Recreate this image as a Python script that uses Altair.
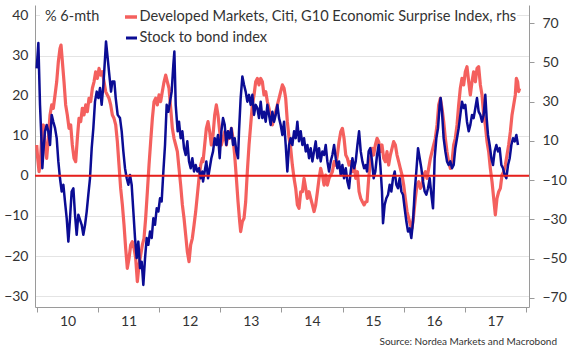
import altair as alt
import pandas as pd

# ---------------- data ----------------
blue_t = [2009.995, 2010.022, 2010.049, 2010.076, 2010.087, 2010.104, 2010.131, 2010.158, 2010.185, 2010.213,
          2010.240, 2010.267, 2010.295, 2010.322, 2010.349, 2010.376, 2010.404, 2010.431, 2010.458, 2010.486,
          2010.513, 2010.540, 2010.567, 2010.595, 2010.622, 2010.649, 2010.676, 2010.731, 2010.758, 2010.786,
          2010.813, 2010.840, 2010.867, 2010.895, 2010.922, 2010.949, 2010.977, 2011.004, 2011.031, 2011.058,
          2011.086, 2011.113, 2011.129, 2011.157, 2011.178, 2011.211, 2011.233, 2011.266, 2011.288, 2011.320,
          2011.358, 2011.386, 2011.413, 2011.440, 2011.468, 2011.495, 2011.522, 2011.549, 2011.577, 2011.604,
          2011.631, 2011.658, 2011.686, 2011.713, 2011.740, 2011.768, 2011.795, 2011.822, 2011.849, 2011.877,
          2011.904, 2011.931, 2011.959, 2011.986, 2012.013, 2012.040, 2012.068, 2012.095, 2012.122, 2012.150,
          2012.177, 2012.204, 2012.231, 2012.248, 2012.270, 2012.302, 2012.324, 2012.351, 2012.379, 2012.406,
          2012.433, 2012.460, 2012.488, 2012.515, 2012.542, 2012.570, 2012.597, 2012.624, 2012.651, 2012.679,
          2012.706, 2012.717, 2012.744, 2012.771, 2012.799, 2012.826, 2012.853, 2012.881, 2012.908, 2012.935,
          2012.962, 2012.990, 2013.017, 2013.044, 2013.072, 2013.099, 2013.126, 2013.153, 2013.181, 2013.208,
          2013.235, 2013.263, 2013.290, 2013.306, 2013.333, 2013.361, 2013.388, 2013.415, 2013.442, 2013.470,
          2013.497, 2013.524, 2013.552, 2013.579, 2013.606, 2013.633, 2013.661, 2013.688, 2013.715, 2013.743,
          2013.770, 2013.797, 2013.824, 2013.852, 2013.879, 2013.906, 2013.934, 2013.961, 2013.988, 2014.016,
          2014.043, 2014.070, 2014.097, 2014.125, 2014.152, 2014.179, 2014.207, 2014.234, 2014.261, 2014.288,
          2014.316, 2014.343, 2014.370, 2014.398, 2014.425, 2014.452, 2014.479, 2014.507, 2014.534, 2014.561,
          2014.589, 2014.616, 2014.643, 2014.670, 2014.698, 2014.725, 2014.752, 2014.780, 2014.807, 2014.834,
          2014.862, 2014.889, 2014.916, 2014.943, 2014.971, 2014.998, 2015.025, 2015.053, 2015.080, 2015.107,
          2015.134, 2015.162, 2015.189, 2015.216, 2015.244, 2015.271, 2015.298, 2015.325, 2015.353, 2015.380,
          2015.401, 2015.428, 2015.455, 2015.483, 2015.510, 2015.537, 2015.565, 2015.592, 2015.619, 2015.646,
          2015.663, 2015.690, 2015.717, 2015.745, 2015.772, 2015.799, 2015.826, 2015.854, 2015.881, 2015.908,
          2015.935, 2015.963, 2015.990, 2016.017, 2016.045, 2016.072, 2016.099, 2016.126, 2016.154, 2016.181,
          2016.208, 2016.236, 2016.263, 2016.290, 2016.317, 2016.345, 2016.372, 2016.399, 2016.427, 2016.454,
          2016.481, 2016.497, 2016.508, 2016.536, 2016.563, 2016.590, 2016.606, 2016.628, 2016.655, 2016.683,
          2016.710, 2016.737, 2016.764, 2016.792, 2016.819, 2016.846, 2016.874, 2016.901, 2016.928, 2016.955,
          2016.983, 2017.010, 2017.037, 2017.065, 2017.092, 2017.119, 2017.146, 2017.174, 2017.201, 2017.228,
          2017.256, 2017.283, 2017.310, 2017.337, 2017.359, 2017.381, 2017.408, 2017.436, 2017.463, 2017.490,
          2017.518, 2017.545, 2017.572, 2017.600, 2017.627, 2017.654, 2017.681, 2017.709, 2017.736, 2017.763,
          2017.791, 2017.818, 2017.845, 2017.872]
blue_v = [26.8, 33.1, 17.7, 7.7, 1.9, 6.1, 11.1, 12.7, 11.1, 7.7,
          15.2, 13.5, 11.9, 9.4, 3.6, -0.6, -3.9, -2.2, -6.4, -10.6,
          -16.4, -10.6, -3.9, -3.1, -9.7, -14.7, -9.7, -12.2, -14.7, -12.2,
          -8.9, -4.7, -0.6, 6.9, 11.9, 18.5, 21.0, 19.4, 21.9, 17.7,
          22.7, 29.3, 33.5, 29.3, 26.0, 21.0, 23.5, 23.5, 19.4, 15.2,
          14.4, 11.1, 6.1, 1.9, -0.6, -2.2, 0.2, -2.2, -8.9, -15.5,
          -20.5, -16.4, -23.0, -21.4, -27.2, -20.5, -15.5, -17.2, -13.9, -15.5,
          -10.6, -12.2, -8.1, -8.9, -5.6, -6.4, 1.1, 7.7, 17.7, 16.0,
          18.5, 21.0, 27.7, 31.0, 17.7, 11.1, 13.5, 9.4, 11.1, 6.9,
          5.2, 8.6, 3.6, 1.9, 4.4, 1.1, 2.7, 1.1, 1.9, -0.6,
          1.1, -1.4, 1.1, 3.6, -0.6, 1.9, 4.4, 6.1, 9.4, 7.7,
          10.2, 4.4, 11.1, 14.4, 12.7, 7.7, 11.1, 9.4, 11.9, 7.7,
          9.4, 6.1, 4.4, 11.1, 19.4, 24.8, 22.7, 21.0, 18.5, 20.2,
          17.7, 20.2, 15.2, 17.7, 16.9, 14.4, 18.5, 14.4, 16.0, 13.5,
          17.7, 15.2, 12.7, 16.0, 13.5, 15.2, 17.7, 14.4, 12.7, 10.2,
          13.5, 7.7, 1.1, 7.7, 9.4, 7.7, 11.1, 9.4, 13.5, 8.6,
          11.1, 7.7, 9.4, 6.1, 7.7, 4.4, 6.9, 3.6, 6.1, 8.6,
          4.4, 6.9, 3.6, 6.1, 5.2, 7.7, 3.6, 1.1, 3.6, 5.2,
          7.7, 4.4, 1.9, 3.6, 0.2, 2.7, -0.6, 1.9, -1.4, -3.1,
          1.1, 4.4, 1.9, 3.6, 7.7, 11.1, 6.1, 3.6, 1.9, 2.7,
          1.1, 6.1, 6.9, 3.6, -0.6, 1.1, 5.2, 7.7, 2.7, -3.9,
          -11.8, -7.2, -5.6, -4.7, -2.2, -3.9, -0.6, 1.1, -2.2, -3.1,
          -0.6, -3.9, -4.7, -8.1, -11.4, -13.9, -13.1, -15.5, -11.4, -3.9,
          1.1, 6.9, 4.4, 1.9, -1.4, -3.9, -4.7, -3.1, -0.6, -4.7,
          -8.1, -1.4, 4.4, 9.4, 11.9, 17.7, 19.4, 16.0, 9.4, 6.1,
          3.6, 2.7, 3.6, 1.9, 2.7, 6.9, 9.4, 11.9, 15.2, 18.5,
          16.9, 17.7, 13.5, 11.1, 12.7, 15.2, 14.4, 16.9, 19.4, 16.0,
          15.2, 13.5, 15.2, 20.2, 14.4, 10.2, 7.7, 4.4, 2.7, 6.1,
          7.7, 6.1, 6.9, 2.7, 1.9, 0.2, -0.6, 2.7, 4.4, 7.7,
          9.4, 8.6, 10.2, 7.7]

red_t = [2009.995, 2010.011, 2010.033, 2010.055, 2010.076, 2010.104, 2010.131, 2010.158, 2010.185, 2010.213,
         2010.240, 2010.267, 2010.295, 2010.322, 2010.349, 2010.376, 2010.393, 2010.415, 2010.442, 2010.469,
         2010.496, 2010.524, 2010.551, 2010.578, 2010.606, 2010.633, 2010.660, 2010.687, 2010.715, 2010.742,
         2010.769, 2010.797, 2010.824, 2010.851, 2010.878, 2010.906, 2010.933, 2010.960, 2010.987, 2011.015,
         2011.042, 2011.069, 2011.097, 2011.124, 2011.151, 2011.178, 2011.206, 2011.233, 2011.260, 2011.288,
         2011.315, 2011.342, 2011.369, 2011.397, 2011.424, 2011.451, 2011.478, 2011.506, 2011.533, 2011.560,
         2011.588, 2011.615, 2011.642, 2011.669, 2011.697, 2011.724, 2011.751, 2011.778, 2011.806, 2011.833,
         2011.860, 2011.888, 2011.915, 2011.942, 2011.969, 2011.997, 2012.024, 2012.051, 2012.079, 2012.106,
         2012.133, 2012.160, 2012.188, 2012.215, 2012.242, 2012.270, 2012.297, 2012.324, 2012.351, 2012.379,
         2012.406, 2012.433, 2012.460, 2012.488, 2012.515, 2012.542, 2012.570, 2012.597, 2012.624, 2012.651,
         2012.679, 2012.706, 2012.717, 2012.744, 2012.771, 2012.799, 2012.826, 2012.853, 2012.881, 2012.908,
         2012.935, 2012.962, 2012.990, 2013.017, 2013.044, 2013.072, 2013.099, 2013.126, 2013.153, 2013.181,
         2013.208, 2013.235, 2013.263, 2013.290, 2013.317, 2013.333, 2013.361, 2013.388, 2013.415, 2013.442,
         2013.470, 2013.497, 2013.524, 2013.552, 2013.579, 2013.606, 2013.633, 2013.661, 2013.688, 2013.715,
         2013.743, 2013.770, 2013.797, 2013.824, 2013.852, 2013.879, 2013.906, 2013.934, 2013.961, 2013.988,
         2014.016, 2014.043, 2014.070, 2014.097, 2014.125, 2014.152, 2014.179, 2014.207, 2014.234, 2014.261,
         2014.288, 2014.316, 2014.343, 2014.370, 2014.398, 2014.425, 2014.452, 2014.479, 2014.507, 2014.534,
         2014.561, 2014.589, 2014.616, 2014.643, 2014.670, 2014.698, 2014.725, 2014.752, 2014.780, 2014.807,
         2014.834, 2014.862, 2014.889, 2014.916, 2014.943, 2014.971, 2014.998, 2015.025, 2015.053, 2015.080,
         2015.107, 2015.134, 2015.162, 2015.189, 2015.216, 2015.244, 2015.271, 2015.298, 2015.325, 2015.353,
         2015.380, 2015.401, 2015.428, 2015.455, 2015.483, 2015.510, 2015.537, 2015.565, 2015.592, 2015.619,
         2015.646, 2015.674, 2015.701, 2015.728, 2015.755, 2015.783, 2015.810, 2015.837, 2015.865, 2015.892,
         2015.919, 2015.946, 2015.974, 2016.001, 2016.028, 2016.056, 2016.083, 2016.110, 2016.137, 2016.165,
         2016.192, 2016.219, 2016.247, 2016.274, 2016.301, 2016.328, 2016.356, 2016.383, 2016.410, 2016.438,
         2016.465, 2016.492, 2016.519, 2016.547, 2016.574, 2016.601, 2016.628, 2016.656, 2016.683, 2016.710,
         2016.737, 2016.765, 2016.792, 2016.819, 2016.846, 2016.874, 2016.901, 2016.928, 2016.955, 2016.983,
         2017.010, 2017.037, 2017.065, 2017.092, 2017.119, 2017.146, 2017.174, 2017.201, 2017.228, 2017.256,
         2017.283, 2017.310, 2017.337, 2017.365, 2017.392, 2017.419, 2017.447, 2017.474, 2017.501, 2017.528,
         2017.556, 2017.583, 2017.610, 2017.638, 2017.665, 2017.692, 2017.719, 2017.747, 2017.774, 2017.801,
         2017.828, 2017.845, 2017.866, 2017.883, 2017.899]
red_v = [7.9, 1.1, -5.7, -0.6, 11.3, 18.1, 7.9, 1.1, 11.3, 23.2,
         28.3, 26.6, 33.4, 40.1, 50.3, 57.1, 58.8, 50.3, 40.1, 28.3,
         23.2, 16.4, 18.1, 7.9, 1.1, -0.6, 11.3, 21.5, 19.8, 26.6,
         23.2, 28.3, 24.9, 31.7, 30.0, 36.8, 40.1, 45.2, 41.8, 46.9,
         43.5, 45.2, 40.1, 35.1, 33.4, 31.7, 28.3, 23.2, 21.5, 18.1,
         9.6, -2.3, -14.2, -22.6, -32.8, -44.7, -54.9, -49.8, -43.0, -41.3,
         -44.7, -49.8, -61.7, -53.2, -48.1, -43.0, -39.6, -29.4, -15.9, -2.3,
         9.6, 21.5, 30.0, 31.7, 28.3, 33.4, 30.0, 35.1, 40.1, 43.5,
         40.1, 36.8, 26.6, 16.4, 11.3, 7.9, 4.5, -4.0, -12.5, -22.6,
         -29.4, -37.9, -46.4, -51.5, -43.0, -39.6, -32.8, -26.0, -17.6, -9.1,
         -2.3, 1.1, -0.6, 7.9, 16.4, 19.8, 14.7, 7.9, 13.0, 23.2,
         28.3, 23.2, 14.7, 7.9, 11.3, 14.7, 7.9, 14.7, 11.3, 16.4,
         11.3, 2.8, -9.1, -21.0, -31.1, -36.2, -31.1, -29.4, -21.0, -5.7,
         7.9, 18.1, 28.3, 33.4, 40.1, 41.8, 38.5, 41.8, 40.1, 33.4,
         35.1, 30.0, 26.6, 21.5, 18.1, 21.5, 24.9, 28.3, 31.7, 35.1,
         38.5, 36.8, 31.7, 19.8, 11.3, 6.2, -2.3, -9.1, -14.2, -22.6,
         -24.3, -15.9, -15.9, -9.1, -14.2, -19.3, -15.9, -19.3, -22.6, -26.0,
         -22.6, -15.9, -9.1, -4.0, -7.4, -12.5, -7.4, -12.5, -9.1, -7.4,
         -5.7, -0.6, -2.3, 2.8, 9.6, 14.7, 16.4, 11.3, 2.8, 1.1,
         -2.3, -0.6, -5.7, -2.3, -9.1, -5.7, -15.9, -19.3, -21.0, -22.6,
         -21.0, -21.0, -9.1, -0.6, 6.2, 2.8, 7.9, 11.3, 9.6, 4.5,
         7.9, 1.1, -0.6, 4.5, -2.3, 2.8, 6.2, 9.6, 7.9, 2.8,
         -0.6, -4.0, -7.4, -12.5, -19.3, -26.0, -29.4, -32.8, -34.5, -27.7,
         -19.3, -12.5, -10.8, -14.2, -12.5, -7.4, -5.7, -9.1, -4.0, 1.1,
         4.5, 7.9, 11.3, 18.1, 28.3, 31.7, 26.6, 19.8, 11.3, 4.5,
         -0.6, -4.0, -0.6, 7.9, 11.3, 18.1, 28.3, 36.8, 41.8, 38.5,
         45.2, 47.8, 40.1, 33.4, 40.1, 45.2, 40.1, 46.9, 47.8, 38.5,
         33.4, 23.2, 18.1, 9.6, 4.5, -4.0, -10.8, -19.3, -27.7, -19.3,
         -15.9, -14.2, -7.4, -5.7, -2.3, 2.8, 7.9, 14.7, 23.2, 28.3,
         33.4, 41.8, 40.1, 35.1, 36.8]

year_ticks = [2010, 2011, 2012, 2013, 2014, 2015, 2016, 2017, 2018]
left_ticks = [-30, -20, -10, 0, 10, 20, 30, 40]
right_ticks = [-70, -50, -30, -10, 10, 30, 50, 70]

red_name = "Developed Markets, Citi, G10 Economic Surprise Index, rhs"
blue_name = "Stock to bond index"
unit_label = "% 6-mth"
source_text = "Source: Nordea Markets and Macrobond"

# ---------------- styling ----------------
FONT = "Lato"
TXT = "#333333"
AX = "#9a9a9a"
RED = "#f4605e"
BLUE = "#0b0c94"
ZERO = "#e8201c"

blue_df = pd.DataFrame({"t": blue_t, "v": blue_v})
red_df = pd.DataFrame({"t": red_t, "v": red_v})
one = pd.DataFrame({"k": [0]})

x_scale = alt.Scale(domain=[2009.967, 2018.052], nice=False, zero=False)
left_scale = alt.Scale(domain=[-32.7, 42.6], nice=False, zero=False)
right_scale = alt.Scale(domain=[-74.6, 79.2], nice=False, zero=False)

x_axis = alt.Axis(
    values=year_ticks, title=None, grid=False,
    labelExpr="datum.value >= 2018 ? '' : slice(toString(datum.value), 2)",
    labelOffset=30.5, labelOverlap=False, labelFlush=False, labelBound=False,
    tickSize=5, labelPadding=2, orient="bottom",
)
x_enc = alt.X("t:Q", scale=x_scale, axis=x_axis)

red_line = alt.Chart(red_df).mark_line(color=RED, strokeWidth=3.2, strokeJoin="round").encode(
    x=x_enc,
    y=alt.Y("v:Q", scale=right_scale,
            axis=alt.Axis(orient="right", values=right_ticks, title=None, grid=False,
                          tickSize=5, labelPadding=8, labelAlign="left")),
)

blue_line = alt.Chart(blue_df).mark_line(color=BLUE, strokeWidth=2.5, strokeJoin="round").encode(
    x=x_enc,
    y=alt.Y("v:Q", scale=left_scale,
            axis=alt.Axis(orient="left", values=left_ticks, title=None, grid=True,
                          gridColor="#e4e4e4", tickSize=0, labelPadding=7)),
)

zero_rule = alt.Chart(one).mark_rule(color=ZERO, strokeWidth=2).encode(
    y=alt.Y(datum=0, scale=left_scale, axis=None),
)

# legend box and entries
legend_bg = alt.Chart(one).mark_rect(color="white").encode(
    x=alt.value(5), x2=alt.value(482), y=alt.value(1), y2=alt.value(22)
)
unit_txt = alt.Chart(one).mark_text(text=unit_label, font=FONT, fontSize=14.5, color=TXT,
                                    align="left", baseline="middle").encode(
    x=alt.value(10), y=alt.value(12))
red_sw = alt.Chart(one).mark_rule(color=RED, strokeWidth=3.5).encode(
    x=alt.value(90), x2=alt.value(102), y=alt.value(12))
red_txt = alt.Chart(one).mark_text(text=red_name, font=FONT, fontSize=14.6, color=TXT,
                                   align="left", baseline="middle").encode(
    x=alt.value(104.5), y=alt.value(12))
blue_sw = alt.Chart(one).mark_rule(color=BLUE, strokeWidth=3).encode(
    x=alt.value(91), x2=alt.value(102), y=alt.value(33))
blue_txt = alt.Chart(one).mark_text(text=blue_name, font=FONT, fontSize=14.6, color=TXT,
                                    align="left", baseline="middle").encode(
    x=alt.value(104.5), y=alt.value(33))
src_txt = alt.Chart(one).mark_text(text=source_text, font=FONT, fontSize=10, color=TXT,
                                   align="right", baseline="middle").encode(
    x=alt.value(522), y=alt.value(337))

chart = alt.layer(
    red_line, blue_line, zero_rule,
    legend_bg, unit_txt, red_sw, red_txt, blue_sw, blue_txt, src_txt,
).resolve_scale(y="independent").properties(
    width=494, height=302,
    padding={"left": 35, "top": 5, "right": 41, "bottom": 45},
    autosize=alt.AutoSizeParams(type="none"),
    background="white",
).configure_view(strokeWidth=0).configure_axis(
    labelFont=FONT, labelFontSize=14, labelColor=TXT,
    domainColor=AX, tickColor=AX, domainWidth=1, tickWidth=1,
)

chart.save("out.html", embed_options={"renderer": "svg", "actions": False})
